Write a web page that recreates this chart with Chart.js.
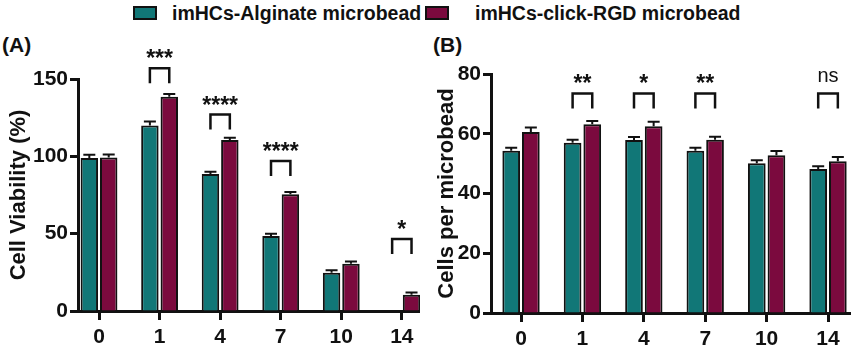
<!DOCTYPE html>
<html>
<head>
<meta charset="utf-8">
<script src="https://cdn.jsdelivr.net/npm/chart.js@4.4.0/dist/chart.umd.min.js"></script>
<style>
  body { margin: 0; background: #fff; width: 858px; height: 351px; position: relative; overflow: hidden;
         font-family: "Liberation Sans", Arial, sans-serif; color: #111; }
  #viability { position: absolute; left: 0; top: 0; }
  #cells { position: absolute; left: 420px; top: 0; }
  .key { position: absolute; top: 1px; height: 24px; display: flex; align-items: center;
         font-weight: bold; font-size: 19.5px; white-space: nowrap; }
  .box { display: inline-block; width: 20px; height: 10px; border: 2px solid #111; }
  .panel { position: absolute; top: 33px; font-weight: bold; font-size: 21px; }
</style>
</head>
<body>
<div class="key" style="left:133px"><span class="box" style="background:#117777"></span><span style="margin-left:15px">imHCs-Alginate microbead</span></div>
<div class="key" style="left:425px"><span class="box" style="background:#7b0a3e"></span><span style="margin-left:26px">imHCs-click-RGD microbead</span></div>
<div class="panel" style="left:2px">(A)</div>
<div class="panel" style="left:433px">(B)</div>
<canvas id="viability" width="420" height="351"></canvas>
<canvas id="cells" width="438" height="351"></canvas>
<script>
// days of culture (x categories)
const days = ['0', '1', '4', '7', '10', '14'];

// (A) cell viability, %
const viabAlginate = [99, 120, 88.6, 48.5, 24.8, 0];
const viabAlginateErr = [2, 2.5, 1.5, 1.5, 1.5, 0];
const viabRGD = [99.2, 138.5, 110.5, 75.5, 30.5, 10.5];
const viabRGDErr = [2, 1.8, 1.5, 1.5, 1.5, 1.5];
const viabSig = ['', '***', '****', '****', '', '*'];
const viabSigLevel = [null, 157, 127, 97, null, 46.5];
const viabTicks = [0, 50, 100, 150];

// (B) cells per microbead
const cellsAlginate = [54.3, 57, 57.9, 54.3, 50.1, 48.2];
const cellsAlginateErr = [1, 1, 1, 1, 1, 0.9];
const cellsRGD = [60.6, 63.2, 62.5, 58, 52.8, 50.8];
const cellsRGDErr = [1.5, 1.1, 1.5, 1, 1.4, 1.4];
const cellsSig = ['', '**', '*', '**', '', 'ns'];
const cellsSigLevel = [null, 73.5, 73.5, 73.5, null, 73.5];
const cellsTicks = [0, 20, 40, 60, 80];

const TEAL = '#117777';
const MAROON = '#7b0a3e';
const INK = '#111';
const FONT = '"Liberation Sans", Arial, sans-serif';

// error bars + significance brackets
const annotate = {
  id: 'annotate',
  afterDatasetsDraw(chart, args, opts) {
    const ctx = chart.ctx;
    const yScale = chart.scales.y;
    ctx.save();
    ctx.strokeStyle = INK;
    ctx.lineWidth = 2;

    chart.data.datasets.forEach((ds, di) => {
      const meta = chart.getDatasetMeta(di);
      meta.data.forEach((bar, i) => {
        const err = ds.errors[i];
        if (!err) return;
        const yTop = yScale.getPixelForValue(ds.data[i].y + err);
        ctx.beginPath();
        ctx.moveTo(bar.x, bar.y);
        ctx.lineTo(bar.x, yTop);
        ctx.moveTo(bar.x - 6, yTop);
        ctx.lineTo(bar.x + 6, yTop);
        ctx.stroke();
      });
    });

    const m0 = chart.getDatasetMeta(0).data;
    const m1 = chart.getDatasetMeta(1).data;
    ctx.lineWidth = 2.5;
    ctx.fillStyle = INK;
    ctx.textAlign = 'center';
    ctx.textBaseline = 'alphabetic';
    opts.labels.forEach((txt, i) => {
      if (!txt) return;
      const x0 = m0[i].x, x1 = m1[i].x;
      const top = yScale.getPixelForValue(opts.levels[i]);
      ctx.beginPath();
      ctx.moveTo(x0, top + 15);
      ctx.lineTo(x0, top);
      ctx.lineTo(x1, top);
      ctx.lineTo(x1, top + 15);
      ctx.stroke();
      if (txt === 'ns') {
        ctx.font = '20px ' + FONT;
        ctx.fillText(txt, (x0 + x1) / 2, top - 11);
      } else {
        ctx.font = 'bold 23px ' + FONT;
        ctx.fillText(txt, (x0 + x1) / 2, top - 2);
      }
    });
    ctx.restore();
  }
};

function points(values) {
  return values.map((v, i) => ({ x: i, y: v }));
}

function makeChart(canvasId, cfg) {
  const ctx = document.getElementById(canvasId).getContext('2d');
  return new Chart(ctx, {
    type: 'bar',
    data: {
      datasets: [
        {
          label: 'imHCs-Alginate microbead',
          data: points(cfg.alginate),
          errors: cfg.alginateErr,
          backgroundColor: TEAL,
          borderColor: INK,
          borderWidth: 2,
          categoryPercentage: 0.64,
          barPercentage: 0.9
        },
        {
          label: 'imHCs-click-RGD microbead',
          data: points(cfg.rgd),
          errors: cfg.rgdErr,
          backgroundColor: MAROON,
          borderColor: INK,
          borderWidth: 2,
          categoryPercentage: 0.64,
          barPercentage: 0.9
        }
      ]
    },
    options: {
      responsive: false,
      animation: false,
      layout: { padding: { top: cfg.top, right: cfg.right, left: 0, bottom: 0 } },
      plugins: {
        legend: { display: false },
        tooltip: { enabled: false },
        annotate: { labels: cfg.sig, levels: cfg.sigLevel }
      },
      scales: {
        x: {
          type: 'linear',
          offset: false,
          min: cfg.xMin,
          max: cfg.xMax,
          afterBuildTicks: (scale) => { scale.ticks = days.map((d, i) => ({ value: i })); },
          afterFit: (scale) => { scale.height = cfg.xHeight; },
          grid: { display: true, drawOnChartArea: false, offset: false, tickLength: 9, tickWidth: 3, tickColor: INK },
          border: { display: true, color: INK, width: 3 },
          ticks: {
            autoSkip: false,
            maxRotation: 0,
            padding: 5,
            color: INK,
            font: { family: FONT, size: 21, weight: 'bold' },
            callback: (v) => days[v] ?? ''
          }
        },
        y: {
          min: 0,
          max: cfg.yTicks[cfg.yTicks.length - 1],
          afterBuildTicks: (scale) => { scale.ticks = cfg.yTicks.map(v => ({ value: v })); },
          afterFit: (scale) => { scale.width = cfg.yWidth; },
          grid: { display: true, drawOnChartArea: false, tickLength: 8, tickWidth: 3, tickColor: INK },
          border: { display: true, color: INK, width: 3 },
          ticks: {
            padding: 2,
            color: INK,
            font: { family: FONT, size: 21, weight: 'bold' }
          },
          title: {
            display: true,
            text: cfg.yTitle,
            color: INK,
            padding: { top: cfg.titlePad, bottom: 0 },
            font: { family: FONT, size: 22, weight: 'bold' }
          }
        }
      }
    },
    plugins: [annotate]
  });
}

makeChart('viability', {
  alginate: viabAlginate, alginateErr: viabAlginateErr,
  rgd: viabRGD, rgdErr: viabRGDErr,
  sig: viabSig, sigLevel: viabSigLevel,
  yTicks: viabTicks, yTitle: 'Cell Viability (%)',
  xMin: -0.347, xMax: 5.3,
  top: 79, right: 0, yWidth: 78, xHeight: 40, titlePad: 6
});

makeChart('cells', {
  alginate: cellsAlginate, alginateErr: cellsAlginateErr,
  rgd: cellsRGD, rgdErr: cellsRGDErr,
  sig: cellsSig, sigLevel: cellsSigLevel,
  yTicks: cellsTicks, yTitle: 'Cells per microbead',
  xMin: -0.489, xMax: 5.358,
  top: 74, right: 8, yWidth: 71, xHeight: 38, titlePad: 14
});
</script>
</body>
</html>
